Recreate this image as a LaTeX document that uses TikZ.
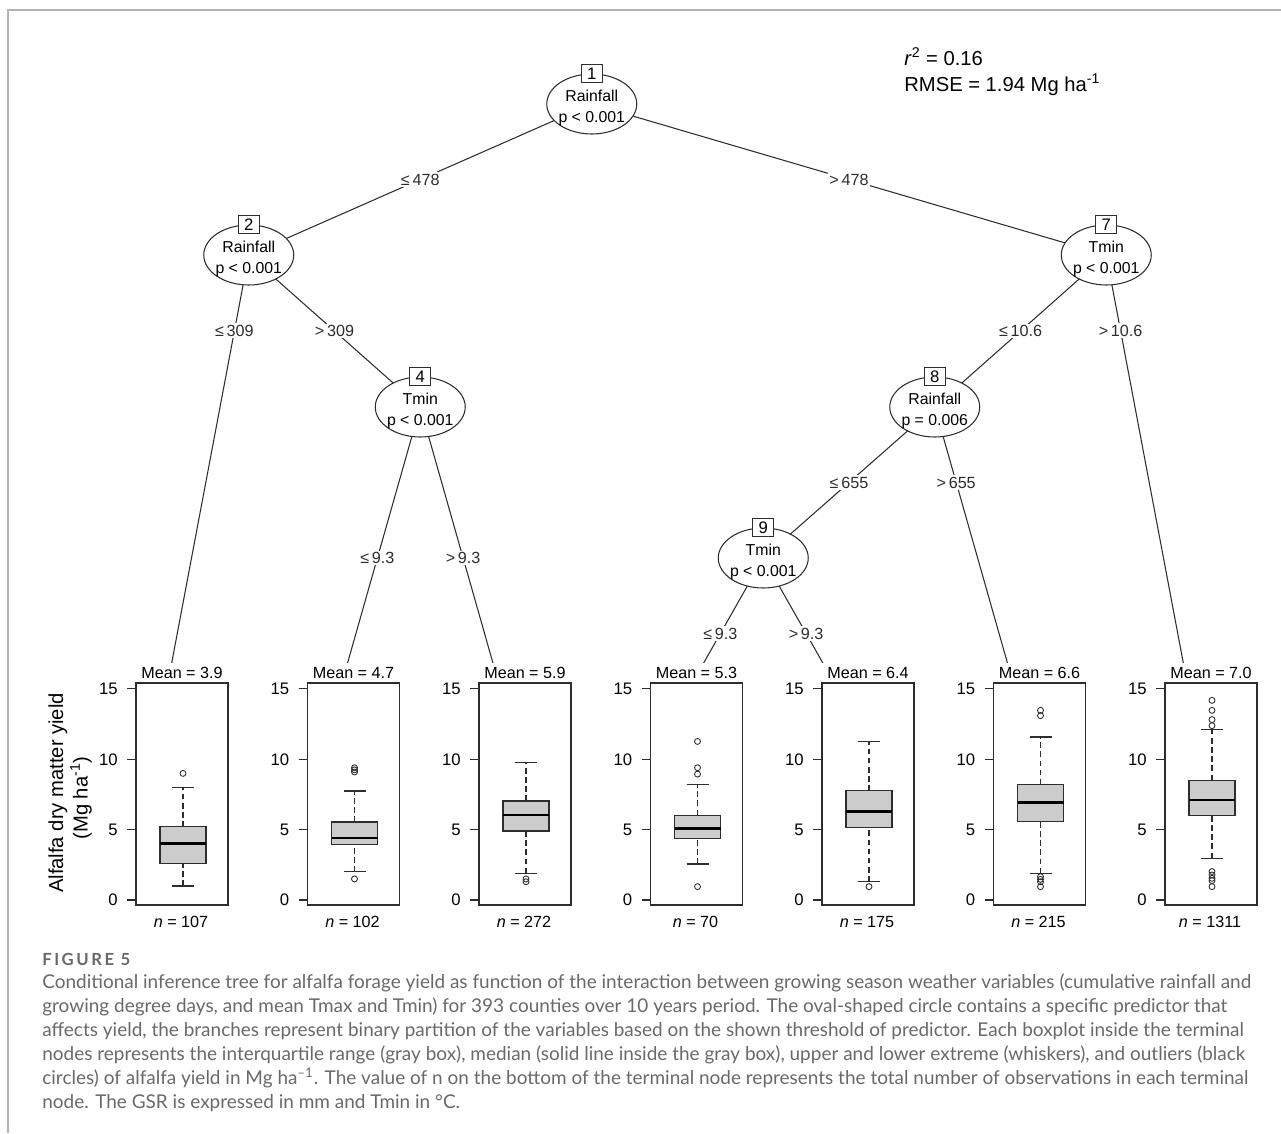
\documentclass[tikz,border=0pt]{standalone}
\usepackage{fontspec}
\setmainfont{Liberation Sans}
\newfontfamily\captionfont{Lato}
\newfontfamily\figfont[LetterSpace=15]{Lato}
\usepackage{tikz}
\usetikzlibrary{shapes.geometric, calc}
\usepackage{xcolor}
\definecolor{framegray}{RGB}{180,180,180}
\definecolor{inkgray}{RGB}{45,45,45}
\definecolor{boxgray}{RGB}{204,204,204}
\definecolor{captiongray}{RGB}{105,105,105}
\newcommand{\yv}[1]{900-14.07*#1}

\pgfdeclarelayer{branches}
\pgfsetlayers{branches,main}

\tikzset{
  splitshape/.style={ellipse, draw=inkgray, fill=white, line width=0.6pt,
    minimum width=1.8cm, minimum height=1.2cm, inner sep=0pt},
  splittext/.style={font=\fontsize{9}{11.7}\selectfont, align=center, inner sep=0pt},
  idbox/.style={draw=inkgray, fill=white, line width=0.6pt, minimum width=0.42cm,
    minimum height=0.36cm, inner sep=0pt, font=\fontsize{9.5}{10}\selectfont},
  branch/.style={inkgray, line width=0.6pt},
  cutlabel/.style={fill=white, inner sep=1pt, font=\fontsize{9.2}{10}\selectfont},
  panelframe/.style={inkgray, line width=0.6pt},
  ticklabel/.style={anchor=east, inner sep=0pt, font=\fontsize{9.5}{10}\selectfont},
  boxbody/.style={draw=inkgray, fill=boxgray, line width=0.7pt},
  median/.style={black, line width=1.5pt},
  whisker/.style={inkgray, line width=0.6pt, dash pattern=on 3.2pt off 2pt},
  whiskercap/.style={inkgray, line width=0.7pt},
  outlier/.style={draw=inkgray, line width=0.5pt},
  leaftext/.style={font=\fontsize{9.2}{10}\selectfont, inner sep=0pt},
  captionline/.style={anchor=base west, inner sep=0pt, text=captiongray,
    font=\captionfont\fontsize{10.8}{12}\selectfont},
}

% inner split: name, x, y, id, variable, p-value
\newcommand{\splitnode}[6]{%
  \node[splitshape] (#1) at (#2,#3) {};
  \node[splittext] (#1txt) at ([yshift=-0.08cm]#1.center) {#5\\#6};
  \node[idbox] (#1id) at (#1.north) {#4};
}

% terminal panel: index, mean, n, low whisker, q1, median, q3, high whisker, outliers
\newcommand{\leafpanel}[9]{%
  \begin{scope}[shift={({136+171.5*(#1-1)},0)}]
    \fill[white] (-45,663) rectangle (100,935);
    \coordinate (t#1) at (27,709);
    \draw[panelframe] (0,683) rectangle (92,905);
    \foreach \v in {0,5,10,15} {
      \draw[panelframe] (-9,{\yv{\v}}) -- (0,{\yv{\v}});
      \node[ticklabel] (tk#1-\v) at (-18,{\yv{\v}}) {\v};
    }
    \draw[whisker] (47,{\yv{#4}}) -- (47,{\yv{#5}});
    \draw[whisker] (47,{\yv{#7}}) -- (47,{\yv{#8}});
    \draw[boxbody] (24,{\yv{#5}}) rectangle (70,{\yv{#7}});
    \draw[median] (24,{\yv{#6}}) -- (70,{\yv{#6}});
    \draw[whiskercap] (36,{\yv{#4}}) -- (58,{\yv{#4}});
    \draw[whiskercap] (36,{\yv{#8}}) -- (58,{\yv{#8}});
    \foreach \o in {#9} \draw[outlier] (47,{\yv{\o}}) circle[radius=1.7pt];
    \node[leaftext] (mean#1) at (46,673) {Mean = #2};
    \node[leaftext] (nobs#1) at (45,922) {\textit{n} = #3};
  \end{scope}
}

\begin{document}
\begin{tikzpicture}[x=0.02cm, y=-0.02cm]
  \useasboundingbox (0,0) rectangle (1281,1133);

  % page frame
  \draw[framegray, line width=1.1pt] (8,1133) -- (8,10) -- (1281,10);

  % fit statistics
  \node[anchor=base west, inner sep=0pt, font=\fontsize{11.5}{13}\selectfont] (rsq) at (904,65) {\textit{r}\textsuperscript{2} = 0.16};
  \node[anchor=base west, inner sep=0pt, font=\fontsize{11.5}{13}\selectfont] (rmse) at (904,91) {RMSE = 1.94 Mg ha\textsuperscript{-1}};

  % splits
  \splitnode{n1}{591.75}{104}{1}{Rainfall}{p < 0.001}
  \splitnode{n2}{248.75}{255}{2}{Rainfall}{p < 0.001}
  \splitnode{n4}{420.25}{407}{4}{Tmin}{p < 0.001}
  \splitnode{n7}{1106.25}{255}{7}{Tmin}{p < 0.001}
  \splitnode{n8}{934.75}{407}{8}{Rainfall}{p = 0.006}
  \splitnode{n9}{763.25}{558}{9}{Tmin}{p < 0.001}

  % terminal boxplots
  \leafpanel{1}{3.9}{107}{1.0}{2.6}{4.0}{5.2}{8.0}{9.0}
  \leafpanel{2}{4.7}{102}{2.0}{3.95}{4.4}{5.55}{7.75}{1.5,9.1,9.25,9.4}
  \leafpanel{3}{5.9}{272}{1.9}{4.9}{6.04}{7.04}{9.8}{1.3,1.5}
  \leafpanel{4}{5.3}{70}{2.56}{4.37}{5.1}{6.03}{8.19}{0.95,8.95,9.4,11.27}
  \leafpanel{5}{6.4}{175}{1.3}{5.13}{6.27}{7.76}{11.25}{0.95}
  \leafpanel{6}{6.6}{215}{1.9}{5.58}{6.93}{8.21}{11.58}{0.95,1.3,1.47,1.66,13.1,13.48}
  \leafpanel{7}{7.0}{1311}{2.97}{6.03}{7.12}{8.52}{12.1}{0.95,1.38,1.54,1.78,2.02,12.39,12.82,13.48,14.19}

  % y axis title
  \node[rotate=90, inner sep=0pt, font=\fontsize{11.5}{13}\selectfont] (ytitle) at (58,793) {Alfalfa dry matter yield};
  \node[rotate=90, inner sep=0pt, font=\fontsize{11.5}{13}\selectfont] (yunit) at (81,798) {(Mg ha\textsuperscript{-1})};

  % branches
  \begin{pgfonlayer}{branches}
    \draw[branch] (n1.center) -- node[cutlabel, pos=0.5] (c12) {≤\,478} (n2.center);
    \draw[branch] (n1.center) -- node[cutlabel, pos=0.5] (c17) {>\,478} (n7.center);
    \draw[branch] (n2.center) -- node[cutlabel, pos=0.167] (c2l) {≤\,309} (t1);
    \draw[branch] (n2.center) -- node[cutlabel, pos=0.5] (c24) {>\,309} (n4.center);
    \draw[branch] (n4.center) -- node[cutlabel, pos=0.5] (c4l) {≤\,9.3} (t2);
    \draw[branch] (n4.center) -- node[cutlabel, pos=0.5] (c4r) {>\,9.3} (t3);
    \draw[branch] (n7.center) -- node[cutlabel, pos=0.5] (c78) {≤\,10.6} (n8.center);
    \draw[branch] (n7.center) -- node[cutlabel, pos=0.167] (c7r) {>\,10.6} (t7);
    \draw[branch] (n8.center) -- node[cutlabel, pos=0.5] (c89) {≤\,655} (n9.center);
    \draw[branch] (n8.center) -- node[cutlabel, pos=0.25] (c8r) {>\,655} (t6);
    \draw[branch] (n9.center) -- node[cutlabel, pos=0.5] (c9l) {≤\,9.3} (t4);
    \draw[branch] (n9.center) -- node[cutlabel, pos=0.5] (c9r) {>\,9.3} (t5);
  \end{pgfonlayer}

  % caption
  \node[anchor=base west, inner sep=0pt, text=captiongray, font=\figfont\bfseries\fontsize{9.5}{10}\selectfont] (figno) at (42,965) {FIGURE 5};
  \node[captionline] (cap1) at (42,988) {Conditional inference tree for alfalfa forage yield as function of the interaction between growing season weather variables (cumulative rainfall and};
  \node[captionline] (cap2) at (42,1012) {growing degree days, and mean Tmax and Tmin) for 393 counties over 10 years period. The oval-shaped circle contains a specific predictor that};
  \node[captionline] (cap3) at (42,1036) {affects yield, the branches represent binary partition of the variables based on the shown threshold of predictor. Each boxplot inside the terminal};
  \node[captionline] (cap4) at (42,1060) {nodes represents the interquartile range (gray box), median (solid line inside the gray box), upper and lower extreme (whiskers), and outliers (black};
  \node[captionline] (cap5) at (42,1084) {circles) of alfalfa yield in Mg ha\textsuperscript{–1}. The value of n on the bottom of the terminal node represents the total number of observations in each terminal};
  \node[captionline] (cap6) at (42,1108) {node. The GSR is expressed in mm and Tmin in °C.};
\end{tikzpicture}
\end{document}
